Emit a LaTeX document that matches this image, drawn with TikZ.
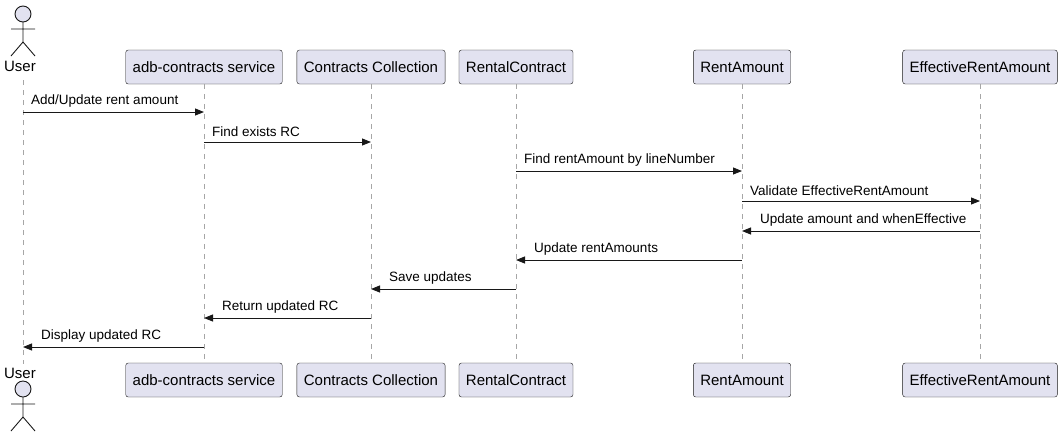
\documentclass[tikz,border=0pt]{standalone}
\usepackage{fontspec}
\setmainfont{Liberation Sans}
\usetikzlibrary{arrows.meta}
\definecolor{partfill}{HTML}{E2E2F0}
\definecolor{partline}{HTML}{181818}
\tikzset{
  part/.style={draw=partline,fill=partfill,rounded corners=2.5pt,minimum height=34pt,inner xsep=7pt,font=\fontsize{15}{17}\selectfont},
  life/.style={draw=gray!70,dash pattern=on 5pt off 5pt,line width=0.7pt},
  msg/.style={draw=partline,line width=0.9pt,-{Triangle[length=9pt,width=7pt]}},
  lbl/.style={font=\fontsize{13.5}{15}\selectfont,inner sep=0pt},
  actor/.style={draw=partline,line width=0.9pt}
}
\begin{document}
\begin{tikzpicture}[x=1pt,y=-1pt]
\useasboundingbox (0,0) rectangle (1064,445);
% participants
\node[part] (adbT) at (204,67) {adb-contracts service};
\node[part] (colT) at (371,67) {Contracts Collection};
\node[part] (rcT) at (516,67) {RentalContract};
\node[part] (raT) at (742,67) {RentAmount};
\node[part] (eraT) at (980,67) {EffectiveRentAmount};
\node[part] (adbB) at (204,380) {adb-contracts service};
\node[part] (colB) at (371,380) {Contracts Collection};
\node[part] (rcB) at (516,380) {RentalContract};
\node[part] (raB) at (742,380) {RentAmount};
\node[part] (eraB) at (980,380) {EffectiveRentAmount};
\node[lbl,font=\fontsize{15}{17}\selectfont] (userT) at (20,66) {User};
\node[lbl,font=\fontsize{15}{17}\selectfont] (userB) at (20,373) {User};
% lifelines
\coordinate (uT) at (23,80); \coordinate (uB) at (23,364);
\draw[life] (uT) -- (uB);
\foreach \n in {adb,col,rc,ra,era} \draw[life] (\n T.south) -- (\n B.north);
% actors
\foreach \y in {14,389} {
  \draw[actor,fill=partfill] (23,\y) circle (8);
  \draw[actor] (23,\y+8) -- (23,\y+28) (11,\y+15) -- (35,\y+15)
    (11,\y+42) -- (23,\y+28) -- (35,\y+42);
}
% messages
\foreach \a/\b/\y/\t/\s in {
  uT/adbT/112/{Add/Update rent amount}/l,
  adbT/colT/142/{Find exists RC}/l,
  rcT/raT/171/{Find rentAmount by lineNumber}/l,
  raT/eraT/201/{Validate EffectiveRentAmount}/l,
  eraT/raT/231/{Update amount and whenEffective}/r,
  raT/rcT/260/{Update rentAmounts}/r,
  rcT/colT/289/{Save updates}/r,
  colT/adbT/318/{Return updated RC}/r,
  adbT/uT/347/{Display updated RC}/r} {
  \coordinate (s) at (\a |- 0,\y); \coordinate (e) at (\b |- 0,\y);
  \draw[msg] (s) -- (e);
  \if\s l
    \node[lbl,anchor=south west] at ([xshift=8pt,yshift=5pt]s) {\t};
  \else
    \node[lbl,anchor=south west] at ([xshift=18pt,yshift=5pt]e) {\t};
  \fi
}
\end{tikzpicture}
\end{document}
